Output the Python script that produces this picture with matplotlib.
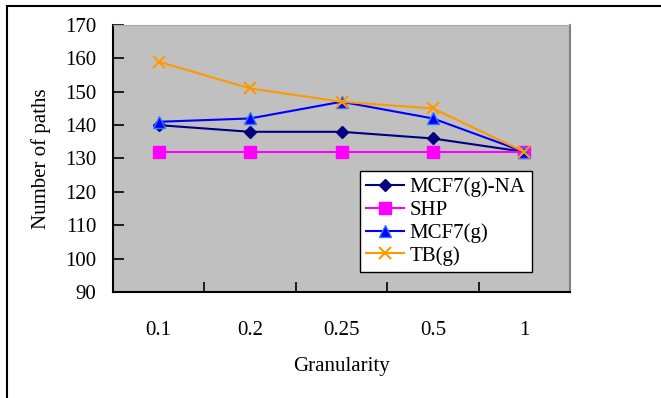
import matplotlib.pyplot as plt
import matplotlib.patches as patches

# データ
categories = ["0.1", "0.2", "0.25", "0.5", "1"]
mcf7_na = [140, 138, 138, 136, 132]
shp = [132, 132, 132, 132, 132]
mcf7 = [141, 142, 147, 142, 132]
tb = [159, 151, 147, 145, 132]

plt.rcParams["font.family"] = ["Liberation Serif", "DejaVu Serif"]
plt.rcParams["font.size"] = 15

fig = plt.figure(figsize=(6.61, 3.98), dpi=100)
ax = fig.add_axes([113 / 661, 106 / 398, 457 / 661, 267 / 398])
ax.set_facecolor("#C0C0C0")

x = list(range(len(categories)))
ax.plot(x, mcf7_na, color="#000080", lw=1.5, marker="D", ms=6, label="MCF7(g)-NA")
ax.plot(x, shp, color="#FF00FF", lw=1.5, marker="s", ms=8, label="SHP")
ax.plot(x, mcf7, color="#0000FF", lw=1.5, marker="^", ms=8,
        mfc="#0000FF", mec="#3377FF", label="MCF7(g)")
ax.plot(x, tb, color="#FF9900", lw=1.5, marker="x", ms=9, mew=1.5, label="TB(g)")

ax.set_xlim(-0.5, 4.5)
ax.set_ylim(90, 170)
ax.set_yticks(range(90, 171, 10))
ax.set_xticks(x)
ax.set_xticklabels(categories)
ax.set_xticks([0.5, 1.5, 2.5, 3.5], minor=True)
ax.tick_params(axis="x", which="major", length=0, pad=21)
ax.tick_params(axis="x", which="minor", direction="in", length=7, width=1.2)
ax.tick_params(axis="y", direction="in", length=8, width=1.2, pad=12)

ax.spines["left"].set_linewidth(1.5)
ax.spines["bottom"].set_linewidth(1.5)
ax.spines["top"].set_color("#A8A8A8")
ax.spines["right"].set_color("#808080")
ax.spines["right"].set_linewidth(1.5)

ax.set_xlabel("Granularity", labelpad=12)
ax.set_ylabel("Number of paths", labelpad=10)

leg = ax.legend(loc="lower left", bbox_to_anchor=(0.54, 0.075), frameon=True,
                fancybox=False, edgecolor="black", facecolor="white",
                framealpha=1, handlelength=1.8, handletextpad=0.3,
                labelspacing=0.15, borderpad=0.3, borderaxespad=0)
leg.get_frame().set_linewidth(1.0)

# 外枠
fig.patches.append(patches.Rectangle((7 / 661, -0.1), 1.2, (392 / 398) + 0.1,
                                     transform=fig.transFigure, fill=False,
                                     edgecolor="black", linewidth=1.5))

plt.savefig("out.png", dpi=100)
